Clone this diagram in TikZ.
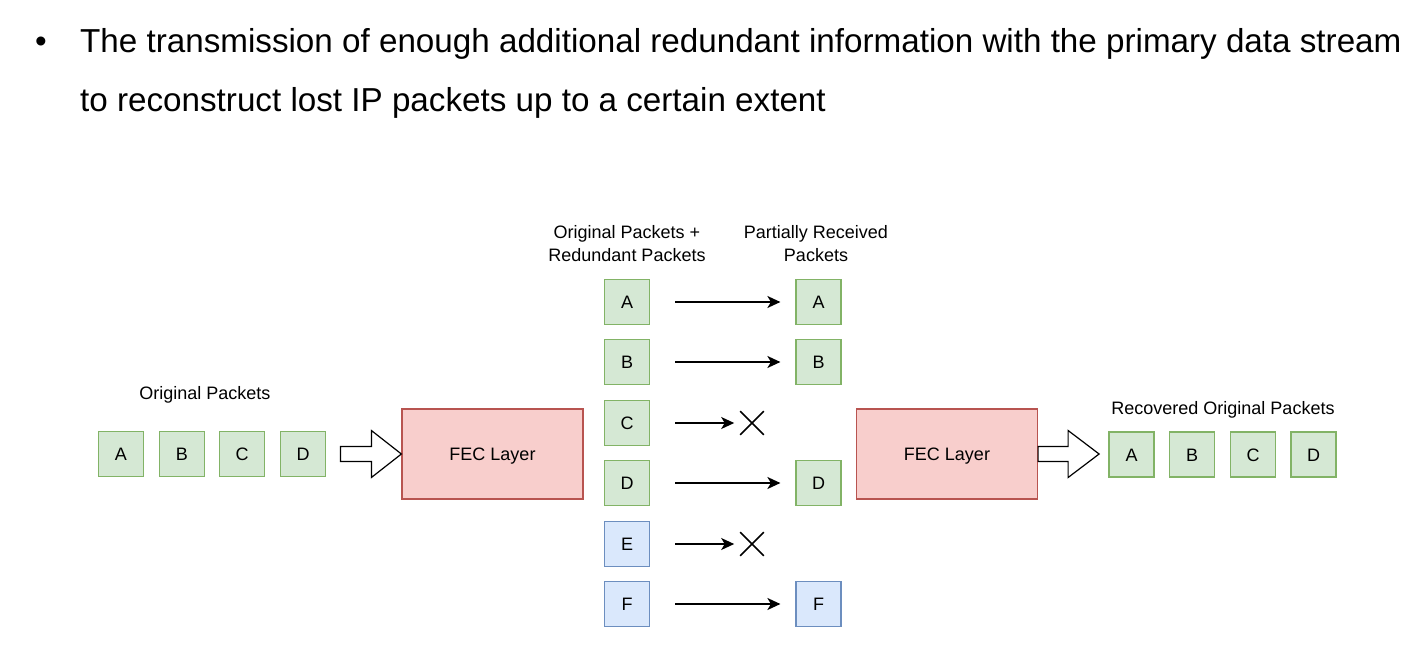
\documentclass[tikz,border=0pt]{standalone}
\usepackage{fontspec}
\setmainfont{Liberation Sans}
\usetikzlibrary{arrows.meta,shapes.misc,calc}
\definecolor{gfill}{HTML}{D5E8D4}
\definecolor{gline}{HTML}{82B366}
\definecolor{bfill}{HTML}{DAE8FC}
\definecolor{bline}{HTML}{6C8EBF}
\definecolor{rfill}{HTML}{F8CECC}
\definecolor{rline}{HTML}{B85450}
\begin{document}
\begin{tikzpicture}[x=1pt,y=-1pt,
  pkt/.style={draw=gline, fill=gfill, line width=1.2pt, minimum size=45pt, inner sep=0pt, text height=13pt, text depth=0pt, font=\fontsize{18}{21}\selectfont},
  rpkt/.style={pkt, draw=bline, fill=bfill},
  fec/.style={draw=rline, fill=rfill, line width=1.2pt, minimum width=181pt, minimum height=90pt, inner sep=0pt, text height=13pt, text depth=0pt, font=\fontsize{18}{21}\selectfont},
  lbl/.style={font=\fontsize{18}{23}\selectfont, align=center, inner sep=0pt},
  ttl/.style={anchor=base west, inner sep=0pt, font=\fontsize{33.2}{40}\selectfont},
  flow/.style={-{Stealth[length=13pt,width=12pt,inset=3.5pt]}, line width=1.7pt},
  lost/.style={draw, cross out, line width=1.6pt, minimum size=22pt, inner sep=0pt},
  block/.style={draw=black, fill=white, line width=1.2pt, line join=miter}
]
\useasboundingbox (0,0) rectangle (1428,645);

% title
\node[ttl] (bul) at (35,52) {•};
\node[ttl] (t1) at (80,52) {The transmission of enough additional redundant information with the primary data stream};
\node[ttl] (t2) at (80,111) {to reconstruct lost IP packets up to a certain extent};

% left original packets
\node[lbl] (lorig) at (205,395) {Original Packets};
\node[pkt] (la) at (121,454) {A};
\node[pkt] (lb) at (182,454) {B};
\node[pkt] (lc) at (242,454) {C};
\node[pkt] (ld) at (303,454) {D};

% FEC layers
\node[fec] (fec1) at (492.5,454) {FEC Layer};
\node[fec] (fec2) at (947,454) {FEC Layer};

% middle column
\node[lbl] (lmid) at (627,244) {Original Packets +\\Redundant Packets};
\node[lbl] (lrcv) at (816,244) {Partially Received\\Packets};
\node[pkt] (ma) at (627,302) {A};
\node[pkt] (mb) at (627,362) {B};
\node[pkt] (mc) at (627,423) {C};
\node[pkt] (md) at (627,483) {D};
\node[rpkt] (me) at (627,544) {E};
\node[rpkt] (mf) at (627,604) {F};

\node[pkt] (ra) at (818.5,302) {A};
\node[pkt] (rb) at (818.5,362) {B};
\node[pkt] (rd) at (818.5,483) {D};
\node[rpkt] (rf) at (818.5,604) {F};
\node[lost] (xc) at (752,423) {};
\node[lost] (xe) at (752,544) {};

\draw[flow, shorten <=25pt, shorten >=15pt] (ma.east) -- (ra.west);
\draw[flow, shorten <=25pt, shorten >=15pt] (mb.east) -- (rb.west);
\draw[flow, shorten <=25pt, shorten >=6pt] (mc.east) -- (xc.west);
\draw[flow, shorten <=25pt, shorten >=15pt] (md.east) -- (rd.west);
\draw[flow, shorten <=25pt, shorten >=6pt] (me.east) -- (xe.west);
\draw[flow, shorten <=25pt, shorten >=15pt] (mf.east) -- (rf.west);

% block arrows
\draw[block] ($(fec1.west)+(-61,-7.5)$) -- ($(fec1.west)+(-30,-7.5)$) -- ($(fec1.west)+(-30,-23.5)$) -- (fec1.west) -- ($(fec1.west)+(-30,23.5)$) -- ($(fec1.west)+(-30,7.5)$) -- ($(fec1.west)+(-61,7.5)$) -- cycle;
\draw[block] ($(fec2.east)+(0,-7.5)$) -- ($(fec2.east)+(30,-7.5)$) -- ($(fec2.east)+(30,-23.5)$) -- ($(fec2.east)+(61,0)$) -- ($(fec2.east)+(30,23.5)$) -- ($(fec2.east)+(30,7.5)$) -- ($(fec2.east)+(0,7.5)$) -- cycle;

% recovered packets
\node[lbl] (lrec) at (1223,410) {Recovered Original Packets};
\node[pkt] (oa) at (1131.5,454.5) {A};
\node[pkt] (ob) at (1192,454.5) {B};
\node[pkt] (oc) at (1253,454.5) {C};
\node[pkt] (od) at (1313.5,454.5) {D};
\end{tikzpicture}
\end{document}
